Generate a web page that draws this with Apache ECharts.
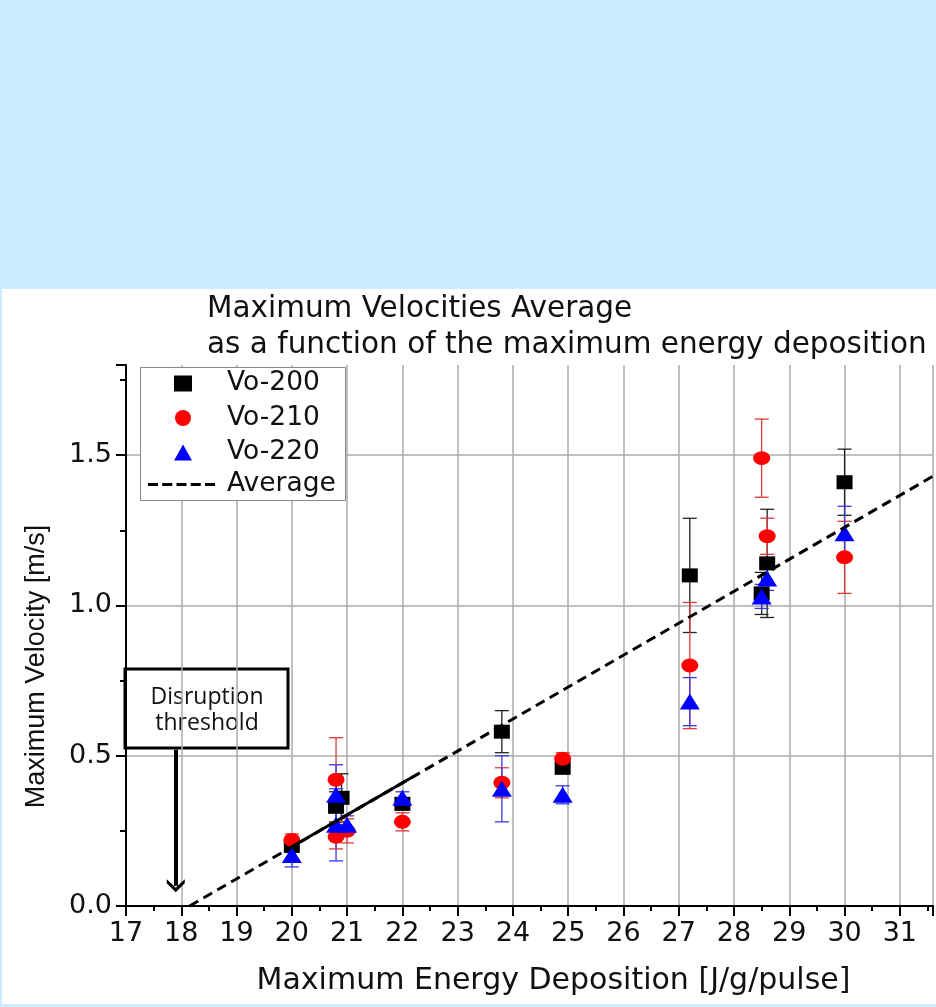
<!DOCTYPE html>
<html><head><meta charset="utf-8">
<script src="https://cdn.jsdelivr.net/npm/echarts@6/dist/echarts.min.js"></script>
<style>
html,body{margin:0;padding:0;background:#CCECFF;width:936px;height:1007px;overflow:hidden}
#c{position:absolute;left:2px;top:289px;width:934px;height:715px;background:#fff}
</style></head><body><div id="c"></div>
<script>
// ---- data ----
const xTickLabels = ['17','18','19','20','21','22','23','24','25','26','27','28','29','30','31'];
const yTickLabels = ['0.0','0.5','1.0','1.5'];

const v200X   = [20, 20.8, 20.9, 22, 23.8, 24.9, 27.2, 28.5, 28.6, 30];
const v200Y   = [0.20, 0.33, 0.36, 0.34, 0.58, 0.46, 1.10, 1.04, 1.14, 1.41];
const v200Err = [0.02, 0.05, 0.08, 0.02, 0.07, 0.02, 0.19, 0.07, 0.18, 0.11];

const v210X   = [20, 20.8, 20.8, 21.0, 22, 23.8, 24.9, 27.2, 28.5, 28.6, 30];
const v210Y   = [0.22, 0.42, 0.23, 0.25, 0.28, 0.41, 0.49, 0.80, 1.49, 1.23, 1.16];
const v210Err = [0.02, 0.14, 0.04, 0.04, 0.03, 0.05, 0.02, 0.21, 0.13, 0.06, 0.12];

const v220X   = [20, 20.8, 20.8, 21.0, 22, 23.8, 24.9, 27.2, 28.5, 28.6, 30];
const v220Y   = [0.17, 0.37, 0.27, 0.27, 0.36, 0.39, 0.37, 0.68, 1.03, 1.09, 1.24];
const v220Err = [0.04, 0.10, 0.12, 0.03, 0.02, 0.11, 0.03, 0.08, 0.04, 0.04, 0.09];

const avgX = [18.15, 31.6];
const avgY = [0.0, 1.43];
const fitX = [20.0, 22.2];
const fitY = [0.197, 0.431];

const thresholdX = 17.9;
const arrowFromY = 0.52;
const arrowToY = 0.067;

// ---- build ----
const pts = (xs, ys) => xs.map((x, i) => [x, ys[i]]);
const errs = (xs, ys, es) => xs.map((x, i) => [x, ys[i] - es[i], ys[i] + es[i]]);

function errRender(color) {
  return function (params, api) {
    const x = api.value(0), lo = api.value(1), hi = api.value(2);
    const a = api.coord([x, lo]), b = api.coord([x, hi]);
    const hw = 7;
    const style = { stroke: color, lineWidth: 1.3, fill: null };
    return { type: 'group', children: [
      { type: 'line', shape: { x1: a[0], y1: a[1], x2: b[0], y2: b[1] }, style },
      { type: 'line', shape: { x1: a[0] - hw, y1: a[1], x2: a[0] + hw, y2: a[1] }, style },
      { type: 'line', shape: { x1: b[0] - hw, y1: b[1], x2: b[0] + hw, y2: b[1] }, style }
    ]};
  };
}

const FONT = 'DejaVu Sans';
const dashIcon = 'path://M0,0h10v3h-10z M14.25,0h10v3h-10z M28.5,0h10v3h-10z M42.75,0h10v3h-10z M57,0h10v3h-10z';

const chart = echarts.init(document.getElementById('c'), null, { renderer: 'canvas' });

chart.setOption({
  animation: false,
  backgroundColor: '#fff',
  title: {
    text: 'Maximum Velocities Average\nas a function of the maximum energy deposition',
    left: 205, top: 2, padding: 0,
    textStyle: { fontFamily: FONT, fontSize: 29.5, fontWeight: 'normal', color: '#111', lineHeight: 36 }
  },
  grid: { left: 124, right: 0, top: 76, bottom: 98, containLabel: false },
  legend: [
    {
      z: 120, orient: 'vertical', left: 172, top: 81, padding: 0,
      itemGap: 7.5, itemWidth: 18, itemHeight: 16,
      textStyle: { fontFamily: FONT, fontSize: 26.5, color: '#111', padding: [0, 0, 0, 30] },
      data: [
        { name: 'Vo-200', icon: 'rect' },
        { name: 'Vo-210', icon: 'circle' },
        { name: 'Vo-220', icon: 'triangle' }
      ]
    },
    {
      z: 120, orient: 'vertical', left: 146, top: 182, padding: 0,
      itemWidth: 67, itemHeight: 3,
      textStyle: { fontFamily: FONT, fontSize: 26.5, color: '#111', padding: [0, 0, 0, 7] },
      data: [{ name: 'Average', icon: dashIcon }]
    }
  ],
  xAxis: {
    type: 'value', min: 17, max: 31.6, interval: 1,
    name: 'Maximum Energy Deposition [J/g/pulse]', nameLocation: 'middle', nameGap: 60,
    nameTextStyle: { fontFamily: FONT, fontSize: 30, color: '#111', padding: [0, 0, 0, 48] },
    axisLine: { onZero: false, lineStyle: { color: '#000', width: 2 } },
    axisTick: { length: 10, lineStyle: { color: '#000', width: 2 } },
    minorTick: { show: true, splitNumber: 2, length: 5, lineStyle: { color: '#000', width: 2 } },
    axisLabel: {
      margin: 14, fontFamily: FONT, fontSize: 27, color: '#111',
      formatter: v => { const i = Math.round(v) - 17; return Math.abs(v - Math.round(v)) < 1e-6 ? (xTickLabels[i] || '') : ''; }
    },
    splitLine: { show: true, lineStyle: { color: '#ababab', width: 1.5 } }
  },
  yAxis: {
    type: 'value', min: 0, max: 1.8, interval: 0.5,
    name: 'Maximum Velocity [m/s]', nameLocation: 'middle', nameGap: 76,
    nameTextStyle: { fontFamily: 'Liberation Sans', fontSize: 27, color: '#111', padding: [0, 62, 0, 0] },
    axisLine: { show: true, lineStyle: { color: '#000', width: 2 } },
    axisTick: { length: 10, lineStyle: { color: '#000', width: 2 } },
    minorTick: { show: true, splitNumber: 2, length: 6, lineStyle: { color: '#000', width: 2 } },
    axisLabel: {
      margin: 14, fontFamily: FONT, fontSize: 27, color: '#111',
      formatter: v => { const i = Math.round(v / 0.5); return Math.abs(v - i * 0.5) < 1e-6 ? (yTickLabels[i] || '') : ''; }
    },
    splitLine: { show: true, showMaxLine: false, lineStyle: { color: '#ababab', width: 1.5 } }
  },
  series: [
    { type: 'custom', name: 'err200', renderItem: errRender('#222'), data: errs(v200X, v200Y, v200Err), encode: { x: 0, y: [1, 2] }, z: 3, silent: true },
    { type: 'custom', name: 'err210', renderItem: errRender('#e03a3a'), data: errs(v210X, v210Y, v210Err), encode: { x: 0, y: [1, 2] }, z: 3, silent: true },
    { type: 'custom', name: 'err220', renderItem: errRender('#3a3ae0'), data: errs(v220X, v220Y, v220Err), encode: { x: 0, y: [1, 2] }, z: 3, silent: true },
    { type: 'scatter', name: 'Vo-200', symbol: 'rect', symbolSize: [16, 14], itemStyle: { color: '#000', opacity: 1 }, data: pts(v200X, v200Y), z: 4 },
    { type: 'scatter', name: 'Vo-210', symbol: 'circle', symbolSize: [17, 14], itemStyle: { color: '#ff0000', opacity: 1 }, data: pts(v210X, v210Y), z: 5 },
    { type: 'scatter', name: 'Vo-220', symbol: 'triangle', symbolSize: [20, 16], itemStyle: { color: '#0000ff', opacity: 1 }, data: pts(v220X, v220Y), z: 6 },
    { type: 'line', name: 'Average', symbol: 'none', data: pts(avgX, avgY), z: 7,
      lineStyle: { color: '#000', width: 3, type: [10, 6] }, itemStyle: { color: '#000' } },
    { type: 'line', name: 'fit', symbol: 'none', data: pts(fitX, fitY), z: 7,
      lineStyle: { color: '#000', width: 3 },
      markLine: {
        silent: true, symbol: ['none', 'path://M9,0 L18,9 L18,13 L9,4.5 L0,13 L0,9 Z'], symbolSize: [18, 13],
        lineStyle: { color: '#000', width: 4, type: 'solid' }, label: { show: false },
        data: [[{ coord: [thresholdX, arrowFromY] }, { coord: [thresholdX, arrowToY] }]]
      } }
  ],
  graphic: [
    { type: 'rect', z: 90, shape: { x: 138.5, y: 78.5, width: 205, height: 133 }, style: { fill: '#fff', stroke: '#8a8a8a', lineWidth: 1 } },
    { type: 'group', z: 100, children: [
      { type: 'rect', shape: { x: 123, y: 380, width: 163, height: 79 }, style: { fill: '#fff', stroke: '#000', lineWidth: 3 } },
      { type: 'text', x: 205, y: 408, style: { text: 'Disruption', fontFamily: 'Open Sans', fontSize: 23, fill: '#111', align: 'center', verticalAlign: 'middle' } },
      { type: 'text', x: 205, y: 434, style: { text: 'threshold', fontFamily: 'Open Sans', fontSize: 23, fill: '#111', align: 'center', verticalAlign: 'middle' } }
    ]}
  ]
});
</script>
</body></html>
